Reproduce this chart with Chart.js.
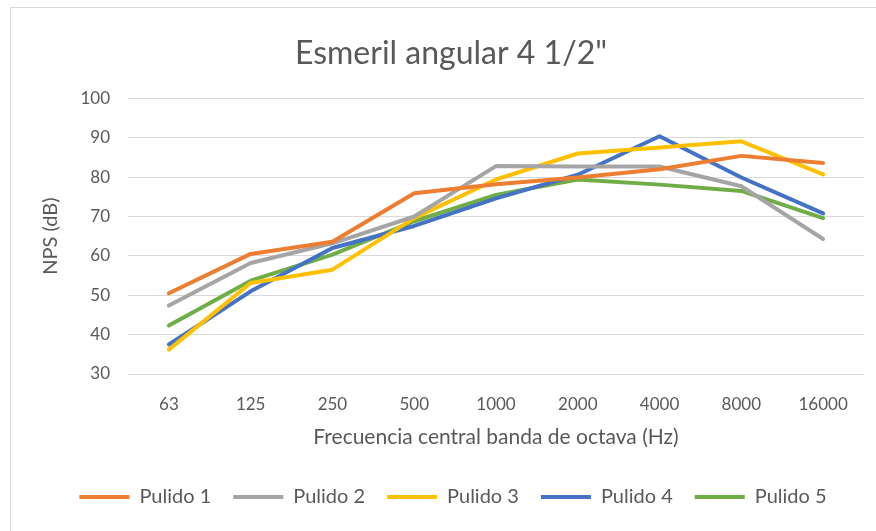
<!DOCTYPE html>
<html>
<head>
<meta charset="utf-8">
<script src="https://cdn.jsdelivr.net/npm/chart.js@4/dist/chart.umd.min.js"></script>
<style>
  html, body { margin: 0; padding: 0; background: #ffffff; }
  #wrap { width: 876px; height: 531px; position: relative; }
</style>
</head>
<body>
<div id="wrap"><canvas id="c" width="876" height="531"></canvas></div>
<script>
// Octave band centre frequencies (Hz)
const bands = ["63", "125", "250", "500", "1000", "2000", "4000", "8000", "16000"];

// Sound pressure level per measurement run (dB)
const pulido1 = [50.5, 60.5, 63.6, 75.9, 78.2, 79.9, 82.0, 85.4, 83.6];
const pulido2 = [47.4, 58.2, 63.2, 70.0, 82.8, 82.7, 82.7, 77.7, 64.3];
const pulido3 = [36.2, 53.1, 56.5, 69.6, 79.4, 86.0, 87.5, 89.1, 80.7];
const pulido4 = [37.5, 51.0, 62.0, 67.6, 74.6, 80.6, 90.4, 79.9, 70.8];
const pulido5 = [42.3, 53.7, 60.3, 68.8, 75.5, 79.4, 78.1, 76.5, 69.6];

const seriesNames = ["Pulido 1", "Pulido 2", "Pulido 3", "Pulido 4", "Pulido 5"];
const seriesValues = [pulido1, pulido2, pulido3, pulido4, pulido5];
const seriesColors = ["#ED7D31", "#A5A5A5", "#FFC000", "#4472C4", "#70AD47"];

const yTicks = { min: 30, max: 100, step: 10 };

const FONT = "Lato, 'Open Sans', sans-serif";
const TEXT = "#595959";

// Light frame around the chart, plus a small rightward nudge of the
// title and legend blocks so they sit centred over the plot.
const framePlugin = {
  id: "frame",
  afterLayout(chart) {
    if (chart.titleBlock) { chart.titleBlock.left += 14; chart.titleBlock.right += 14; }
    if (chart.legend) { chart.legend.left += 16; chart.legend.right += 16; }
  },
  beforeDraw(chart) {
    const ctx = chart.ctx;
    ctx.save();
    ctx.fillStyle = "#ffffff";
    ctx.fillRect(0, 0, chart.width, chart.height);
    ctx.strokeStyle = "#d9d9d9";
    ctx.lineWidth = 1;
    ctx.strokeRect(10.5, 7.5, chart.width + 20, chart.height + 20);
    ctx.restore();
  }
};

new Chart(document.getElementById("c"), {
  type: "line",
  data: {
    labels: bands,
    datasets: seriesNames.map((name, i) => ({
      label: name,
      data: seriesValues[i],
      borderColor: seriesColors[i],
      backgroundColor: seriesColors[i],
      borderWidth: 4,
      borderCapStyle: "round",
      borderJoinStyle: "round",
      pointRadius: 0,
      pointHoverRadius: 0,
      tension: 0,
      fill: false
    }))
  },
  options: {
    responsive: false,
    animation: false,
    devicePixelRatio: 1,
    layout: { padding: { left: 10, right: 12, top: 0, bottom: 14 } },
    plugins: {
      tooltip: { enabled: false },
      title: {
        display: true,
        text: 'Esmeril angular 4 1/2"',
        color: TEXT,
        font: { family: FONT, size: 32, weight: "normal" },
        padding: { top: 34, bottom: 26 }
      },
      legend: {
        position: "bottom",
        labels: {
          color: TEXT,
          font: { family: FONT, size: 20 },
          boxWidth: 50,
          boxHeight: 4,
          padding: 22,
          generateLabels(chart) {
            return Chart.defaults.plugins.legend.labels.generateLabels(chart)
              .map(l => Object.assign(l, { lineWidth: 0 }));
          }
        }
      }
    },
    scales: {
      x: {
        offset: true,
        grid: { display: false },
        border: { display: false },
        ticks: { color: TEXT, font: { family: FONT, size: 17 }, padding: 12 },
        title: {
          display: true,
          text: "Frecuencia central banda de octava (Hz)",
          color: TEXT,
          font: { family: FONT, size: 21 },
          padding: { top: 6, bottom: 15 }
        },
        afterFit(scale) { scale.height = 91; }
      },
      y: {
        min: yTicks.min,
        max: yTicks.max,
        ticks: {
          stepSize: yTicks.step,
          color: TEXT,
          font: { family: FONT, size: 17 },
          padding: 18
        },
        grid: { color: "#d9d9d9", lineWidth: 1, drawTicks: false },
        border: { display: false },
        title: {
          display: true,
          text: "NPS (dB)",
          color: TEXT,
          font: { family: FONT, size: 20 },
          padding: { top: 29, bottom: 0 }
        },
        afterFit(scale) { scale.width = 118; }
      }
    }
  },
  plugins: [framePlugin]
});
</script>
</body>
</html>
